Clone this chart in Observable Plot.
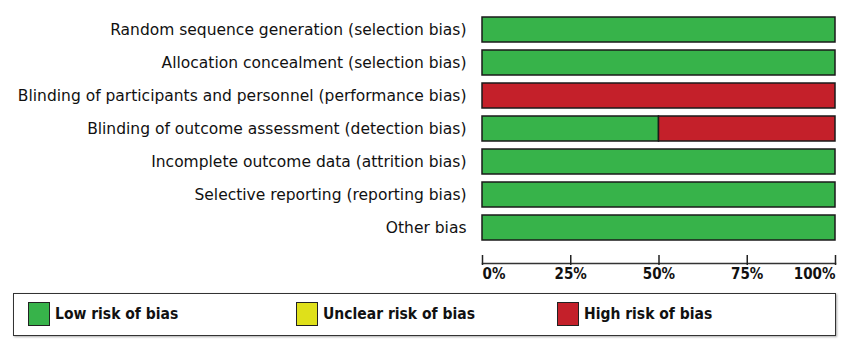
<!DOCTYPE html>
<html>
<head>
<meta charset="utf-8">
<script src="https://cdn.jsdelivr.net/npm/d3@7"></script>
<script src="https://cdn.jsdelivr.net/npm/@observablehq/plot@0.6"></script>
<style>
  html, body { margin: 0; padding: 0; background: #fff; }
  #wrap { position: relative; width: 850px; height: 350px; }
  #legend {
    position: absolute; left: 13px; top: 293px; width: 821px; height: 41px;
    border: 1.5px solid #333; box-shadow: 1px 1px 2px #aaa; background: #fff;
    font-family: "DejaVu Sans Condensed", "DejaVu Sans", sans-serif; font-weight: bold; font-size: 15.5px; color: #111;
  }
  .item { position: absolute; top: 8px; display: flex; align-items: center; }
  .sw { width: 22px; height: 24px; border: 1.5px solid #222; margin-right: 5px; box-sizing: border-box; }
</style>
</head>
<body>
<div id="wrap">
  <div id="chart"></div>
  <div id="legend"></div>
</div>
<script>
const categories = [
  "Random sequence generation (selection bias)",
  "Allocation concealment (selection bias)",
  "Blinding of participants and personnel (performance bias)",
  "Blinding of outcome assessment (detection bias)",
  "Incomplete outcome data (attrition bias)",
  "Selective reporting (reporting bias)",
  "Other bias"
];
const lowRisk     = [100, 100, 0, 50, 100, 100, 100];
const unclearRisk = [0, 0, 0, 0, 0, 0, 0];
const highRisk    = [0, 0, 100, 50, 0, 0, 0];
const riskLevels  = ["Low risk of bias", "Unclear risk of bias", "High risk of bias"];
const riskColors  = ["#37b34a", "#dfe01a", "#c4202a"];
const tickValues  = [0, 25, 50, 75, 100];
const tickLabels  = ["0%", "25%", "50%", "75%", "100%"];

const series = [lowRisk, unclearRisk, highRisk];
const rows = [];
categories.forEach((c, i) => {
  series.forEach((s, j) => rows.push({category: c, risk: riskLevels[j], value: s[i]}));
});
const ticks = tickValues.map((v, i) => ({v, label: tickLabels[i]}));

const W = 850, H = 290;
const tickFont = {fontWeight: "bold", fontSize: 15, fontFamily: "'DejaVu Sans Condensed', 'DejaVu Sans', sans-serif"};
const chart = Plot.plot({
  width: W, height: H,
  marginLeft: 482, marginRight: 15, marginTop: 10, marginBottom: H - 263,
  style: {fontFamily: "'DejaVu Sans', sans-serif", fontSize: "15.5px", color: "#111", background: "#fff"},
  x: {domain: [0, 100], axis: null},
  y: {domain: categories, range: [10, 248], paddingInner: 0.235, paddingOuter: 0.1176, align: 0.5, label: null},
  color: {domain: riskLevels, range: riskColors},
  marks: [
    Plot.axisY({tickSize: 0, tickPadding: 16, fontSize: 15.5, label: null}),
    Plot.barX(rows, Plot.stackX({x: "value", y: "category", fill: "risk", order: riskLevels, stroke: "#1a1a1a", strokeWidth: 1.5, filter: d => d.value > 0})),
    Plot.frame({anchor: "bottom", stroke: "#333", strokeWidth: 1.5}),
    Plot.ruleX(tickValues, {x: d => d, insetTop: 263 - 10 - 8, insetBottom: -2, stroke: "#222", strokeWidth: 1.5}),
    Plot.text(ticks.filter((d, i) => i === 0), {x: "v", text: "label", frameAnchor: "bottom", dy: 5, lineAnchor: "top", textAnchor: "start", ...tickFont}),
    Plot.text(ticks.filter((d, i) => i > 0 && i < ticks.length - 1), {x: "v", text: "label", frameAnchor: "bottom", dy: 5, lineAnchor: "top", textAnchor: "middle", ...tickFont}),
    Plot.text(ticks.filter((d, i) => i === ticks.length - 1), {x: "v", text: "label", frameAnchor: "bottom", dy: 5, lineAnchor: "top", textAnchor: "end", ...tickFont})
  ]
});
document.getElementById("chart").appendChild(chart);

const legend = document.getElementById("legend");
const lefts = [14, 282, 543];
riskLevels.forEach((r, i) => {
  const it = document.createElement("div");
  it.className = "item";
  it.style.left = lefts[i] + "px";
  const sw = document.createElement("div");
  sw.className = "sw";
  sw.style.background = riskColors[i];
  const t = document.createElement("span");
  t.textContent = r;
  it.appendChild(sw); it.appendChild(t);
  legend.appendChild(it);
});
</script>
</body>
</html>
